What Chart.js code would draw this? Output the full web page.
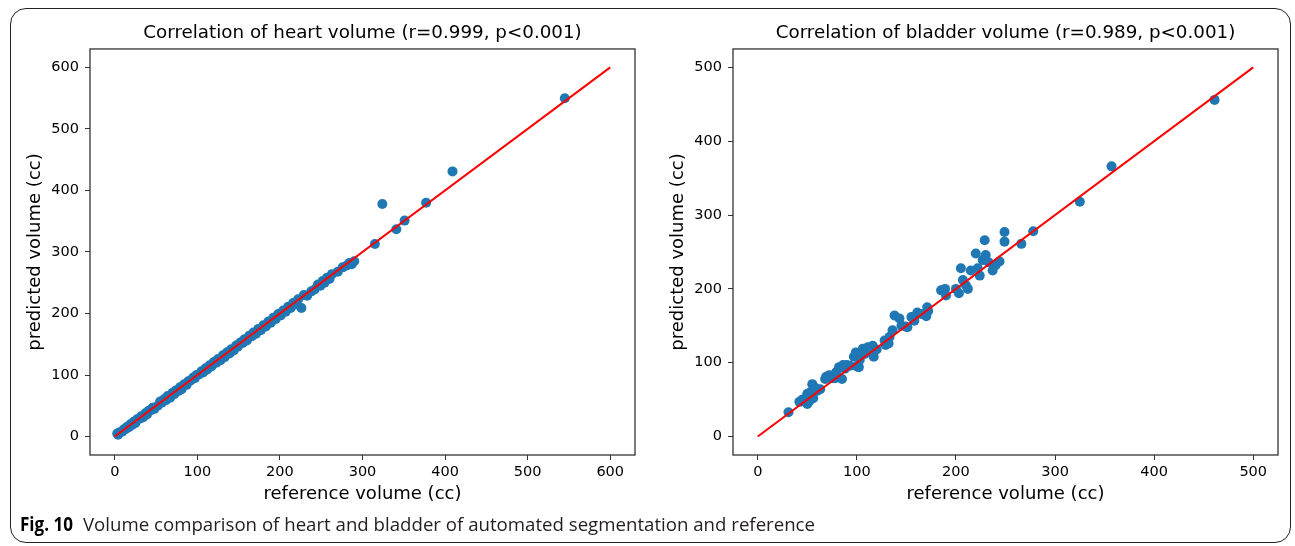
<!DOCTYPE html>
<html>
<head>
<meta charset="utf-8">
<script src="https://cdn.jsdelivr.net/npm/chart.js@4/dist/chart.umd.min.js"></script>
<style>
  html, body { margin: 0; padding: 0; background: #ffffff; }
  body { width: 1295px; height: 546px; position: relative; overflow: hidden; }
  #frame { position: absolute; left: 10px; top: 8px; width: 1281px; height: 535px;
           border: 1.3px solid #222; border-radius: 16px; box-sizing: border-box; }
  .wrap { position: absolute; top: 15px; width: 631px; height: 500px; }
  #w1 { left: 14px; }
  #w2 { left: 657px; }
  .cap { position: absolute; top: 509px; white-space: nowrap; transform-origin: 0 50%;
         font-family: "Open Sans", "Noto Sans", sans-serif; color: #231f20; line-height: 30px; }
  #figlbl { left: 20px; font-weight: 700; color: #000; }
  #captxt { left: 83px; font-weight: 400; }
</style>
</head>
<body>
<div id="frame"></div>
<div class="wrap" id="w1"><canvas id="c1" width="631" height="500"></canvas></div>
<div class="wrap" id="w2"><canvas id="c2" width="631" height="500"></canvas></div>
<div class="cap" id="figlbl">Fig. 10</div>
<div class="cap" id="captxt">Volume comparison of heart and bladder of automated segmentation and reference</div>
<script>
// ---------- data ----------
const heartTitle = "Correlation of heart volume (r=0.999, p<0.001)";
const bladderTitle = "Correlation of bladder volume (r=0.989, p<0.001)";
const xAxisLabel = "reference volume (cc)";
const yAxisLabel = "predicted volume (cc)";

const heartRef = [3,4,6,9,11,13,15,17,19,21,
  23,25,27,30,32,34,37,39,41,44,
  46,48,52,55,57,60,62,64,67,70,
  72,74,77,79,81,84,87,89,92,95,
  97,99,102,105,107,110,112,115,117,120,
  123,125,128,131,133,136,139,141,144,147,
  149,152,155,157,160,163,166,168,171,174,
  177,180,183,186,189,192,195,198,201,204,
  207,210,213,216,219,222,226,229,233,238,
  242,246,249,252,254,257,260,263,270,276,
  281,284,287,290,315,324,341,351,377,409,545];
const heartPred = [5,3,7,8,12,12,16,15,20,19,
  24,22,28,29,33,31,38,36,42,43,
  47,45,50,57,55,61,59,66,63,71,
  69,75,74,80,77,85,84,90,91,96,
  95,100,101,106,104,111,109,116,114,121,
  120,126,124,132,129,137,135,142,140,148,
  146,153,152,158,156,164,163,169,167,175,
  173,181,179,187,185,193,191,199,197,205,
  203,211,209,217,215,223,209,230,229,236,
  239,247,245,253,250,258,256,264,268,275,
  278,282,280,285,313,378,337,351,380,431,550];

const bladderRef = [31,42,45,47,50,50,52,53,55,56,
  58,60,63,68,69,72,75,78,79,82,
  85,86,88,90,93,97,99,100,102,103,
  106,108,111,114,116,117,120,128,129,132,
  133,136,138,143,145,149,151,155,158,161,
  165,170,171,172,185,189,190,200,203,205,
  207,210,212,215,220,222,224,227,229,230,
  233,237,240,244,249,249,266,278,325,357,461];
const bladderPred = [33,47,50,51,58,44,48,60,71,52,
  66,62,64,78,81,83,79,79,87,94,
  78,97,92,97,96,108,114,95,94,104,
  119,112,121,117,123,108,118,130,124,126,
  135,144,164,160,150,149,148,162,157,168,
  166,163,175,170,198,200,191,200,194,228,
  212,205,200,225,248,228,218,239,266,246,
  236,225,232,237,277,264,261,278,318,366,456];

const heartLine = [0, 600];
const bladderLine = [0, 500];
const heartTicks = [0,100,200,300,400,500,600];
const bladderTicks = [0,100,200,300,400,500];
const heartRange = [-30, 630];
const bladderRange = [-25, 525];

// ---------- chart builder ----------
const FONT = "DejaVu Sans";
const frameBox = {
  id: 'frameBox',
  afterDatasetsDraw(chart) {
    const a = chart.chartArea, ctx = chart.ctx;
    ctx.save();
    ctx.strokeStyle = '#333';
    ctx.lineWidth = 1.3;
    ctx.strokeRect(a.left, a.top, a.right - a.left, a.bottom - a.top);
    ctx.restore();
  }
};

function makeChart(id, title, xs, ys, lineEnds, ticks, range) {
  const pts = xs.map((x, i) => ({x: x, y: ys[i]}));
  const line = lineEnds.map(v => ({x: v, y: v}));
  return new Chart(document.getElementById(id), {
    type: 'scatter',
    data: {
      datasets: [
        { type: 'line', data: line, borderColor: '#ff0000', borderWidth: 2,
          pointRadius: 0, fill: false, order: 0 },
        { data: pts, backgroundColor: '#1f77b4', borderWidth: 0,
          pointRadius: 5, pointHoverRadius: 5, order: 1 }
      ]
    },
    options: {
      responsive: false,
      animation: false,
      events: [],
      layout: { padding: { top: 7, right: 10, left: 0, bottom: 0 } },
      plugins: {
        legend: { display: false },
        tooltip: { enabled: false },
        title: { display: true, fullSize: false, text: title, color: '#000',
                 font: { family: FONT, size: 18.3, weight: 'normal', lineHeight: 1.2 },
                 padding: { top: 0, bottom: 5 } }
      },
      scales: {
        x: {
          type: 'linear', min: range[0], max: range[1],
          afterFit(s) { s.height = 60; },
          afterBuildTicks(s) { s.ticks = ticks.map(v => ({value: v})); },
          grid: { drawOnChartArea: false, drawTicks: true, tickLength: 5, color: '#333', lineWidth: 1 },
          border: { display: false },
          ticks: { color: '#000', padding: 4, maxRotation: 0, autoSkip: false,
                   font: { family: FONT, size: 14.5 } },
          title: { display: true, text: xAxisLabel, color: '#000',
                   font: { family: FONT, size: 18, lineHeight: 1.2 }, padding: { top: 0, bottom: 10 } }
        },
        y: {
          type: 'linear', min: range[0], max: range[1],
          afterFit(s) { s.width = 76; },
          afterBuildTicks(s) { s.ticks = ticks.map(v => ({value: v})); },
          grid: { drawOnChartArea: false, drawTicks: true, tickLength: 5, color: '#333', lineWidth: 1 },
          border: { display: false },
          ticks: { color: '#000', padding: 6, autoSkip: false,
                   font: { family: FONT, size: 14.5 } },
          title: { display: true, text: yAxisLabel, color: '#000',
                   font: { family: FONT, size: 18, lineHeight: 1.2 }, padding: { top: 11, bottom: 0 } }
        }
      }
    },
    plugins: [frameBox]
  });
}

makeChart('c1', heartTitle, heartRef, heartPred, heartLine, heartTicks, heartRange);
makeChart('c2', bladderTitle, bladderRef, bladderPred, bladderLine, bladderTicks, bladderRange);

// caption: larger font, horizontally condensed to the reference width
(function () {
  const cv = document.createElement('canvas').getContext('2d');
  const fam = '"Open Sans", "Noto Sans", sans-serif';
  const cap = document.getElementById('captxt');
  const fig = document.getElementById('figlbl');
  cap.style.fontSize = '19px';
  fig.style.fontSize = '19px';
  cv.font = '400 19px ' + fam;
  const w = cv.measureText(cap.textContent).width;
  cap.style.transform = 'scaleX(' + (732 / w).toFixed(4) + ')';
  cv.font = '700 19px ' + fam;
  const wb = cv.measureText(fig.textContent).width;
  fig.style.transform = 'scaleX(' + (53 / wb).toFixed(4) + ')';
})();
</script>
</body>
</html>
